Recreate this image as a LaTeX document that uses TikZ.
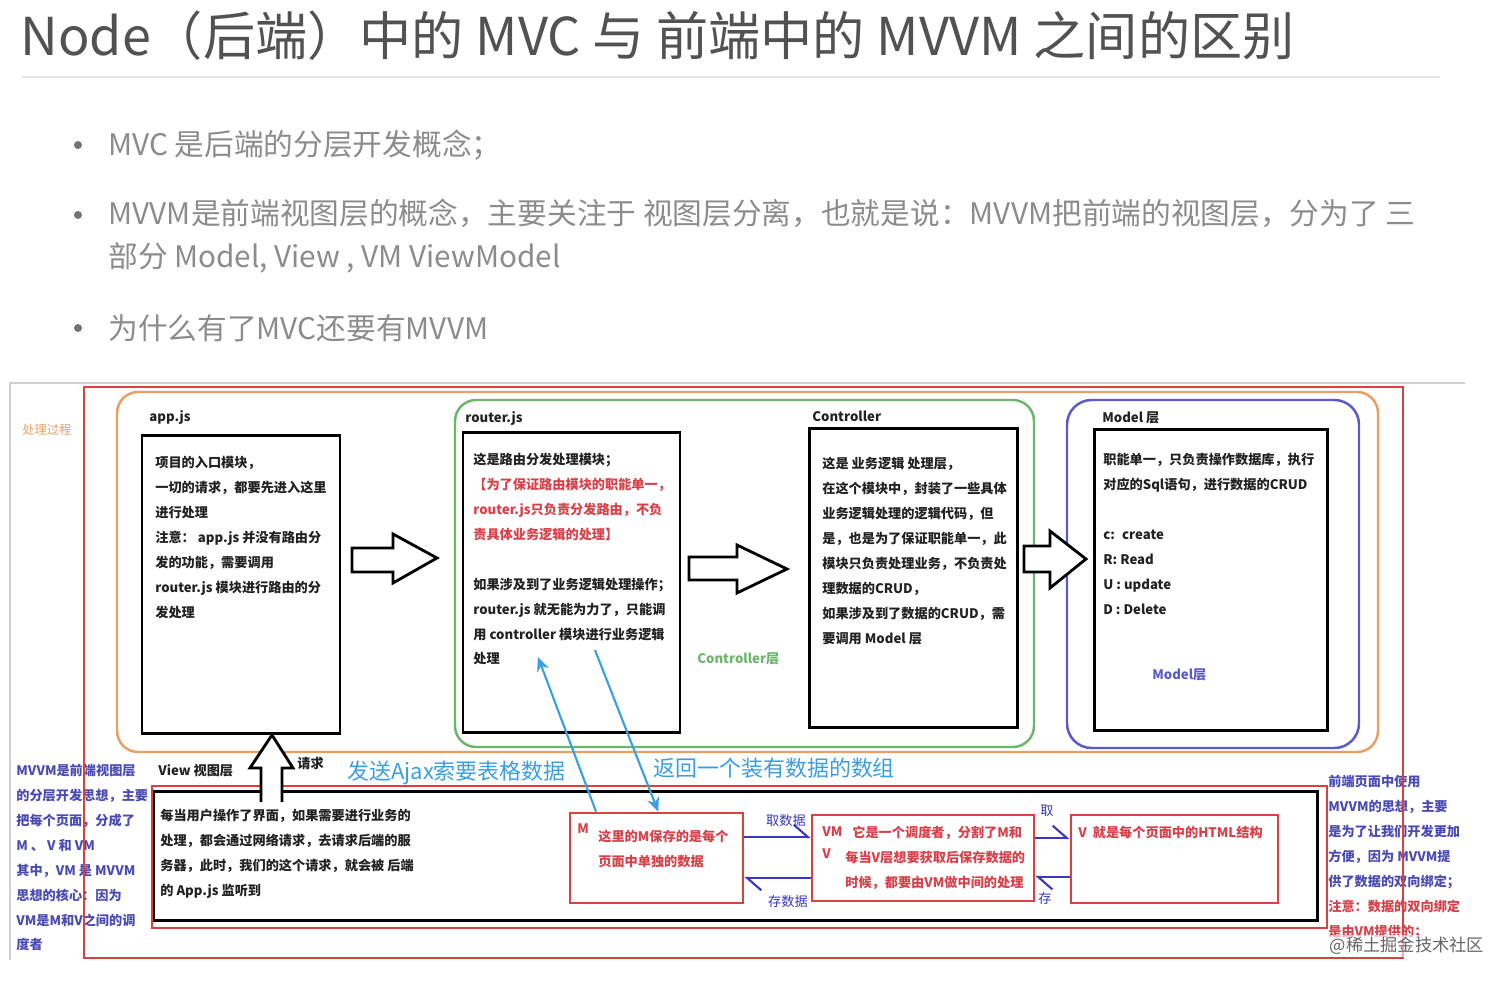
\documentclass[tikz,border=0pt]{standalone}
\usepackage{fontspec}
\setmainfont{Noto Sans CJK SC}
\usepackage{xcolor}
\usetikzlibrary{positioning,arrows.meta,fit,calc}
\definecolor{orangeln}{HTML}{E8A060}
\definecolor{greenln}{HTML}{6DB56D}
\definecolor{blueln}{HTML}{5A5AC8}
\definecolor{redln}{HTML}{D94040}
\definecolor{redtxt}{HTML}{D8404A}
\definecolor{purpletxt}{HTML}{4B4BB5}
\definecolor{skyblue}{HTML}{3A9FE0}
\definecolor{navyarr}{HTML}{3838C0}
\definecolor{darktxt}{HTML}{222222}

\begin{document}
\begin{tikzpicture}[x=0.02cm, y=-0.02cm,
  font=\fontsize{7.5}{14.17}\selectfont\bfseries,
  txt/.style={anchor=north west, inner sep=0pt, align=left, text=darktxt},
  lbl/.style={anchor=west, inner sep=0pt, text=darktxt},
  layer/.style={draw, line width=1.4pt, rounded corners=12pt},
  modbox/.style={draw=black, line width=1.7pt, inner sep=0pt},
  vmbox/.style={draw=redln, line width=1.6pt, inner sep=0pt},
  hollow/.style={draw=black, line width=1.6pt, fill=white, line join=miter},
  ajaxarr/.style={-{Stealth[length=8pt, width=7pt]}, skyblue, line width=1.2pt},
  vmarr/.style={-{Straight Barb[left, length=8pt, width=14pt]}, navyarr, line width=1.2pt},
  bigblue/.style={anchor=west, inner sep=0pt, text=skyblue, font=\fontsize{12.5}{15}\selectfont},
  ]
  \fill[white] (0,0) rectangle (1512,981);
  \useasboundingbox (0,0) rectangle (1512,981);

  % Title and bullets
  \node[anchor=west, inner sep=0pt, text=black!68, font=\fontsize{29.7}{34}\selectfont] (title) at (20,36)
    {Node（后端）中的 MVC 与 前端中的 MVVM 之间的区别};
  \draw[black!10, line width=1.2pt] (22,77) -- (1440,77);
  \foreach \yy in {145,215,328}
    \fill[black!55] (78,\yy) circle (4);
  \node[anchor=west, inner sep=0pt, text=black!45, font=\fontsize{16.9}{20}\selectfont] (b1) at (108,145)
    {MVC 是后端的分层开发概念；};
  \node[anchor=west, inner sep=0pt, text=black!45, align=left, font=\fontsize{16.9}{24.4}\selectfont] (b2) at (108,236)
    {MVVM是前端视图层的概念，主要关注于 视图层分离，也就是说：MVVM把前端的视图层，分为了 三\\
     部分 Model, View , VM ViewModel};
  \node[anchor=west, inner sep=0pt, text=black!45, font=\fontsize{16.9}{20}\selectfont] (b3) at (108,328)
    {为什么有了MVC还要有MVVM};

  % Screenshot frame
  \draw[black!18, line width=0.8pt] (10,960) -- (10,383) -- (1465,383);

  % Backend layers
  \node[layer, draw=orangeln, fit={(117,392) (1378,752)}, inner sep=0pt] (backend) {};
  \node[layer, draw=greenln, fit={(455,400) (1034,747)}, inner sep=0pt] (ctrllayer) {};
  \node[layer, draw=blueln, rounded corners=14pt, fit={(1067,400) (1359,748)}, inner sep=0pt] (modellayer) {};

  \node[modbox, fit={(142,435) (340,733)}] (app) {};
  \node[modbox, fit={(463,432) (680,732)}] (router) {};
  \node[modbox, fit={(809,428) (1017,727)}] (ctrl) {};
  \node[modbox, fit={(1094,429) (1327,730)}] (model) {};

  \node[lbl] (applbl) at (149,417) {app.js};
  \node[lbl] (routerlbl) at (465,418) {router.js};
  \node[lbl] (ctrllbl) at (812,416) {Controller};
  \node[lbl] (modellbl) at (1102,418) {Model 层};

  \node[txt] (apptxt) at (155,456) {项目的入口模块，\\
    一切的请求，都要先进入这里\\
    进行处理\\
    注意： app.js 并没有路由分\\
    发的功能，需要调用\\
    router.js 模块进行路由的分\\
    发处理};
  \node[txt] (routertxt) at (473,453) {这是路由分发处理模块；\\
    \textcolor{redtxt}{【为了保证路由模块的职能单一，}\\
    \textcolor{redtxt}{router.js只负责分发路由，不负}\\
    \textcolor{redtxt}{责具体业务逻辑的处理】}\\[14.17pt]
    如果涉及到了业务逻辑处理操作；\\
    router.js 就无能为力了，只能调\\
    用 controller 模块进行业务逻辑\\
    处理};
  \node[txt] (ctrltxt) at (822,457) {这是 业务逻辑 处理层，\\
    在这个模块中，封装了一些具体\\
    业务逻辑处理的逻辑代码，但\\
    是，也是为了保证职能单一，此\\
    模块只负责处理业务，不负责处\\
    理数据的CRUD，\\
    如果涉及到了数据的CRUD，需\\
    要调用 Model 层};
  \node[txt] (modeltxt) at (1103,453) {职能单一，只负责操作数据库，执行\\
    对应的Sql语句，进行数据的CRUD\\[14.17pt]
    c:~ create\\
    R: Read\\
    U : update\\
    D : Delete};
  \node[lbl, text=greenln] (ctrltag) at (697,659) {Controller层};
  \node[lbl, text=blueln] (modeltag) at (1152,675) {Model层};

  % Block arrows between modules
  \draw[hollow] (352,548) -- (393,548) -- (393,534) -- (437,558) -- (393,583) -- (393,572) -- (352,572) -- cycle;
  \draw[hollow] (689,557) -- (737,557) -- (737,545) -- (787,569) -- (737,593) -- (737,580) -- (689,580) -- cycle;
  \draw[hollow] (1024,546) -- (1050,546) -- (1050,531) -- (1086,559) -- (1050,588) -- (1050,572) -- (1024,572) -- cycle;

  % Side notes
  \node[lbl, text=orangeln, font=\fontsize{7}{9}\selectfont] (process) at (22,430) {处理过程};
  \node[txt, text=purpletxt] (mvvmnote) at (16,764) {MVVM是前端视图层\\
    的分层开发思想，主要\\
    把每个页面，分成了\\
    M 、 V 和 VM\\
    其中，VM 是 MVVM\\
    思想的核心：因为\\
    VM是M和V之间的调\\
    度者};
  \node[txt, text=purpletxt] (bindnote) at (1328,775) {前端页面中使用\\
    MVVM的思想，主要\\
    是为了让我们开发更加\\
    方便，因为 MVVM提\\
    供了数据的双向绑定；\\
    \textcolor{redtxt}{注意：数据的双向绑定}\\
    \textcolor{redtxt}{是由VM提供的；}};

  % Frontend view layer
  \node[draw=redln, line width=1.2pt, fit={(152,786) (1327,928)}, inner sep=0pt] (frontend) {};
  \node[modbox, fit={(154,791) (1317,920)}] (view) {};
  \node[lbl] (viewlbl) at (158,771) {View 视图层};
  \node[lbl] (reqlbl) at (297,763) {请求};
  \draw[hollow] (261,802) -- (261,768) -- (250,768) -- (272,735) -- (293,768) -- (282,768) -- (282,802);
  \node[txt] (viewtxt) at (160,809) {每当用户操作了界面，如果需要进行业务的\\
    处理，都会通过网络请求，去请求后端的服\\
    务器，此时，我们的这个请求，就会被 后端\\
    的 App.js 监听到};

  \node[vmbox, fit={(570,813) (743,903)}] (mbox) {};
  \node[vmbox, fit={(812,815) (1034,901)}] (vmbox) {};
  \node[vmbox, fit={(1071,815) (1278,903)}] (vbox) {};

  \node[txt, text=redtxt] (mtag) at (577,823) {M};
  \node[txt, text=redtxt] (mtxt) at (598,830) {这里的M保存的是每个\\页面中单独的数据};
  \node[txt, text=redtxt] (vmtag) at (822,826) {VM};
  \node[txt, text=redtxt] (vtag) at (822,848) {V};
  \node[txt, text=redtxt] (vmtxt) at (845,826) {\hspace{4pt}它是一个调度者，分割了M和\\
    每当V层想要获取后保存数据的\\
    时候，都要由VM做中间的处理};
  \node[txt, text=redtxt] (vtxt) at (1078,826) {V~~就是每个页面中的HTML结构};

  \draw[vmarr] (mbox.east |- 0,837) -- (vmbox.west |- 0,837);
  \draw[vmarr] (vmbox.west |- 0,878) -- (mbox.east |- 0,878);
  \draw[vmarr] (vmbox.east |- 0,838) -- (vbox.west |- 0,838);
  \draw[vmarr] (vbox.west |- 0,877) -- (vmbox.east |- 0,877);
  \node[text=navyarr, inner sep=0pt, font=\fontsize{7.5}{9}\selectfont] (getlbl) at (786,820) {取数据};
  \node[text=navyarr, inner sep=0pt, font=\fontsize{7.5}{9}\selectfont] (putlbl) at (788,901) {存数据};
  \node[text=navyarr, inner sep=0pt, font=\fontsize{7.5}{9}\selectfont] (getlbl2) at (1047,811) {取};
  \node[text=navyarr, inner sep=0pt, font=\fontsize{7.5}{9}\selectfont] (putlbl2) at (1045,898) {存};

  % Ajax request and response
  \coordinate (reqtip) at (538,657);
  \coordinate (resstart) at (595,650);
  \draw[ajaxarr] ($(mbox.north west)!0.156!(mbox.north east)$) -- (reqtip);
  \draw[ajaxarr] (resstart) -- ($(mbox.north west)!0.51!(mbox.north east)$);
  \node[bigblue] (reqlbl2) at (347,773) {发送Ajax索要表格数据};
  \node[bigblue] (reslbl) at (653,768) {返回一个装有数据的数组};

  % Outer red frame
  \node[draw=redln, line width=1.2pt, fit={(84,387) (1403,958)}, inner sep=0pt] (mvcframe) {};

  \node[anchor=east, inner sep=1pt, text=black!60, fill=white, fill opacity=0.6, text opacity=1,
    font=\fontsize{9.8}{12}\selectfont\mdseries] (mark) at (1486,946) {@稀土掘金技术社区};
\end{tikzpicture}
\end{document}
